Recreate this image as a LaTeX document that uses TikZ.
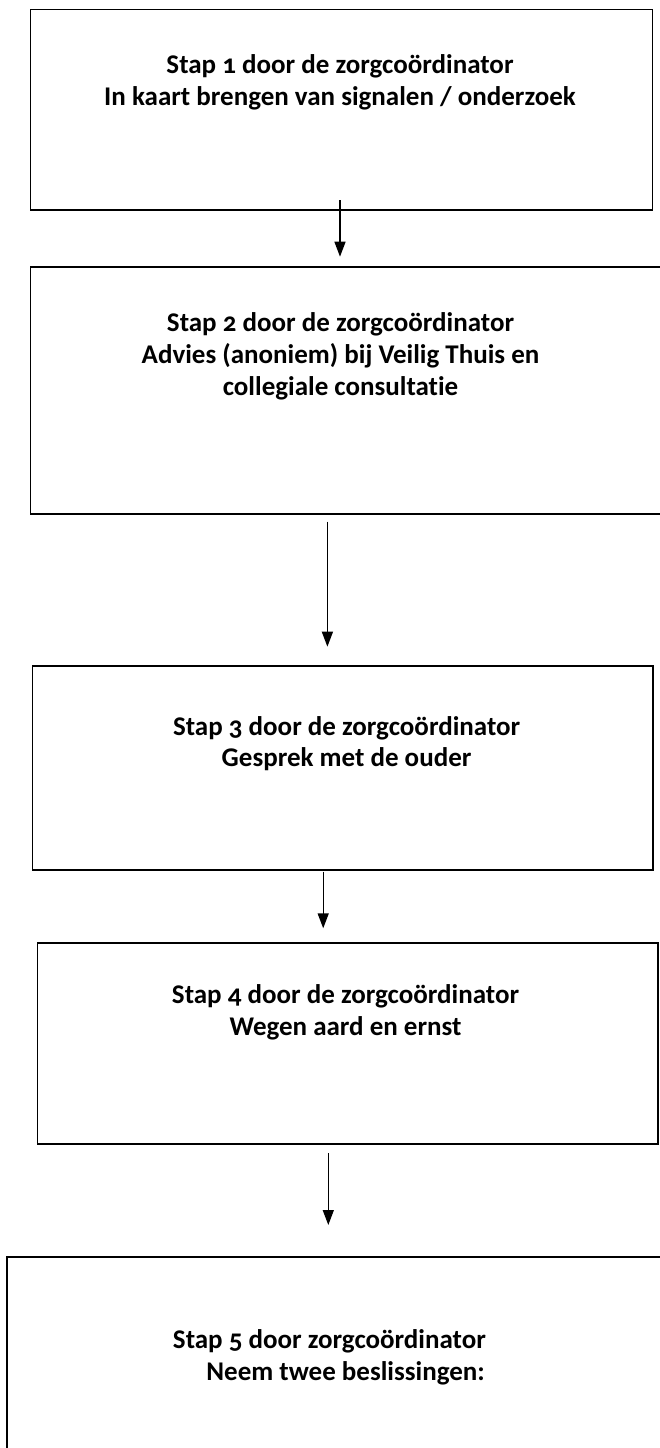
\documentclass[tikz,border=0pt]{standalone}
\usepackage{fontspec}
\setmainfont{Carlito}[Numbers=OldStyle, Ligatures=NoCommon]
\usetikzlibrary{arrows.meta}
\begin{document}
\begin{tikzpicture}[x=1pt,y=-1pt,
  box/.style={draw, line width=1.8pt, rectangle, inner sep=0pt, anchor=north west},
  lbl/.style={anchor=base, inner sep=0pt, font=\bfseries\fontsize{27}{32}\selectfont},
  flow/.style={line width=1.4pt, -{Triangle[length=15pt,width=11pt]}}]
\useasboundingbox (0,0) rectangle (660,1448);
% boxes
\node[box, minimum width=622pt, minimum height=200.8pt] (b1) at (29.5,8.5) {};
\node[box, minimum width=700pt, minimum height=247.3pt] (b2) at (29.5,266) {};
\node[box, minimum width=620.8pt, minimum height=204.3pt] (b3) at (31.6,665) {};
\node[box, minimum width=620.8pt, minimum height=201pt] (b4) at (36.6,941.7) {};
\node[box, minimum width=700pt, minimum height=300pt] (b5) at (6.3,1256) {};
% texts
\node[lbl] (t1a) at (340,73) {Stap 1 door de zorgcoördinator};
\node[lbl] (t1b) at (340,105) {In kaart brengen van signalen / onderzoek};
\node[lbl] (t2a) at (340.5,331.7) {Stap 2 door de zorgcoördinator};
\node[lbl] (t2b) at (340.5,363.3) {Advies (anoniem) bij Veilig Thuis en};
\node[lbl] (t2c) at (340.5,395) {collegiale consultatie};
\node[lbl] (t3a) at (346.6,735) {Stap 3 door de zorgcoördinator};
\node[lbl] (t3b) at (346.6,766.7) {Gesprek met de ouder};
\node[lbl] (t4a) at (345.5,1003.3) {Stap 4 door de zorgcoördinator};
\node[lbl] (t4b) at (345.5,1035) {Wegen aard en ernst};
\node[lbl, anchor=base east] (t5a) at (486,1348.3) {Stap 5 door zorgcoördinator};
\node[lbl, anchor=base east] (t5b) at (485,1380) {Neem twee beslissingen:};
% arrow end points
\coordinate (a1s) at (340,200);   \coordinate (a1e) at (340,256.7);
\coordinate (a2s) at (327.4,521.7); \coordinate (a2e) at (327.4,646.7);
\coordinate (a3s) at (323.2,871.7); \coordinate (a3e) at (323.2,928.3);
\coordinate (a4s) at (328.3,1153.3); \coordinate (a4e) at (328.3,1225);
\draw[flow] (a1s) -- (a1e);
\draw[flow] (a2s) -- (a2e);
\draw[flow] (a3s) -- (a3e);
\draw[flow] (a4s) -- (a4e);
\end{tikzpicture}
\end{document}
